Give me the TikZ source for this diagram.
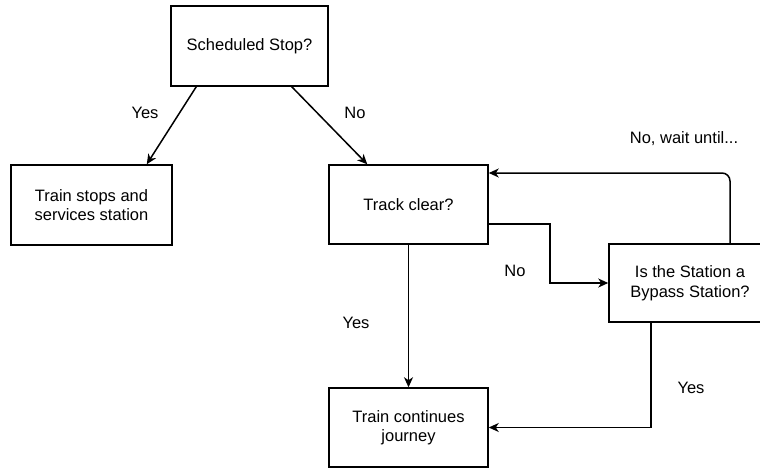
\documentclass[tikz,border=0pt]{standalone}
\usepackage{fontspec}
\setmainfont{Liberation Sans}
\usetikzlibrary{arrows.meta}

\begin{document}
\begin{tikzpicture}[
    x=1pt, y=-1pt,
    font=\fontsize{16.5}{19.5}\selectfont,
    box/.style={rectangle, draw, line width=1.5pt, minimum width=159pt, minimum height=79pt, align=center, inner sep=0pt},
    flow/.style={->, line width=1.5pt, >={Stealth[length=10pt,width=9pt,inset=3pt]}},
    lbl/.style={font=\fontsize{16.5}{19.5}\selectfont}
]

\useasboundingbox (0,0) rectangle (760,468);
\fill[white] (0,0) rectangle (760,468);

% Boxes
\node[box, minimum width=157pt, minimum height=80pt] (sched) at (249.5,46) {Scheduled Stop?};
\node[box, minimum width=161pt, minimum height=80pt] (stops) at (91.5,205) {Train stops and\\services station};
\node[box] (track) at (408.5,204.5) {Track clear?};
\node[box, minimum width=162pt, minimum height=78pt] (bypass) at (690,283) {Is the Station a\\Bypass Station?};
\node[box] (cont) at (408.5,427.5) {Train continues\\journey};

% Decisions
\draw[flow] ([xshift=26pt]sched.south west) -- ([xshift=-26pt]stops.north east);
\draw[flow] ([xshift=-37pt]sched.south east) -- ([xshift=39pt]track.north west);
\draw[flow] ([yshift=-19.5pt]track.east) -- ++(61,0) |- (bypass.west);
\draw[flow] (track.south) -- (cont.north);
\draw[flow] ([xshift=-39pt]bypass.south) |- (cont.east);
\draw[flow, rounded corners=8pt] ([xshift=40pt]bypass.north) |- ([yshift=31.5pt]track.east);

% Labels
\node[lbl] (yesstop) at (145,113) {Yes};
\node[lbl] (nostop) at (355,113) {No};
\node[lbl] (noclear) at (515,271) {No};
\node[lbl] (yesclear) at (356,323) {Yes};
\node[lbl] (yesbypass) at (691,388) {Yes};
\node[lbl] (nowait) at (684,139) {No, wait until...};

\end{tikzpicture}
\end{document}
